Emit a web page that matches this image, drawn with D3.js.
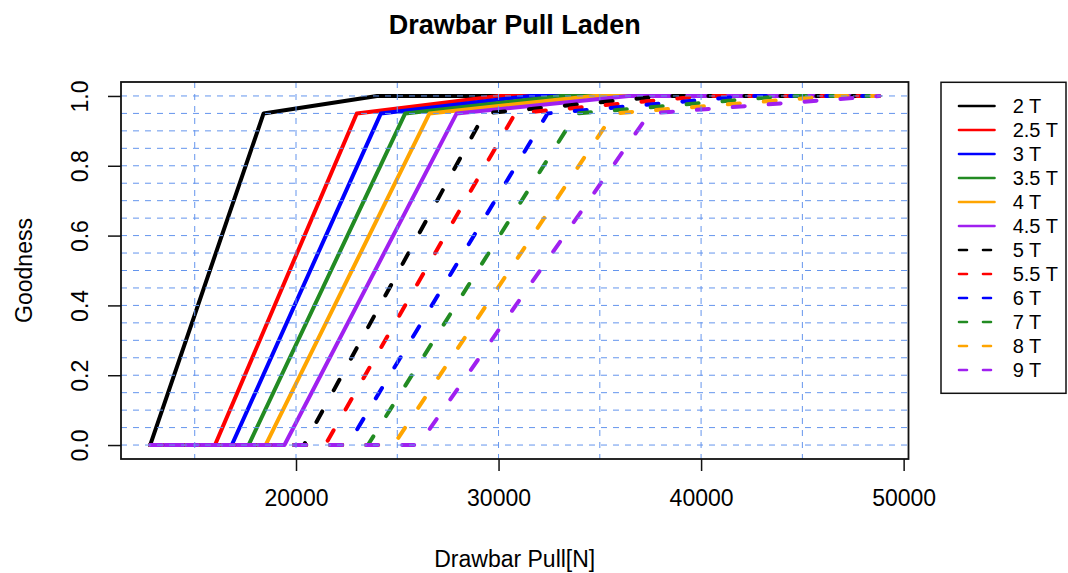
<!DOCTYPE html>
<html>
<head>
<meta charset="utf-8">
<script src="https://cdn.jsdelivr.net/npm/d3@7"></script>
<style>
  body { margin: 0; background: #fff; }
  svg text { font-family: "Liberation Sans", Arial, sans-serif; }
</style>
</head>
<body>
<svg id="canvas" width="1068" height="573"></svg>
<script>
// series names and read-off breakpoints (Drawbar Pull in N)
var seriesNames = ["2 T", "2.5 T", "3 T", "3.5 T", "4 T", "4.5 T", "5 T", "5.5 T", "6 T", "7 T", "8 T", "9 T"];
var startX = [12800, 16000, 16830, 17660, 18500, 19430, 20390, 21440, 22550, 23550, 24820, 26050]; // goodness leaves 0
var peakX  = [18400, 23000, 24190, 25390, 26590, 27930, 29310, 30820, 32420, 33850, 35680, 37450]; // goodness 0.95
var fullX  = [24000, 30000, 31560, 33110, 34690, 36430, 38230, 40200, 42280, 44160, 46540, 48800]; // goodness 1.0
var peakGoodness = 0.95;
var xMin = 12800, xMax = 48800;

var xTicks = [20000, 30000, 40000, 50000];
var yTicks = [0, 0.2, 0.4, 0.6, 0.8, 1.0];
var xGrid = [15000, 20000, 25000, 30000, 35000, 40000, 45000];
var yGrid = d3.range(0, 21).map(function (i) { return i / 20; });

var colors = ["black", "red", "blue", "forestgreen", "orange", "#A020F0",
              "black", "red", "blue", "forestgreen", "orange", "#A020F0"];

var svg = d3.select("#canvas");
var plotL = 121, plotR = 908.5, plotT = 82, plotB = 459;

var pad = (xMax - xMin) * 0.04;
var x = d3.scaleLinear().domain([xMin - pad, xMax + pad]).range([plotL, plotR]);
var y = d3.scaleLinear().domain([-0.04, 1.04]).range([plotB, plotT]);

// build the polylines
var series = seriesNames.map(function (name, i) {
    var pts = [];
    if (startX[i] > xMin) pts.push([xMin, 0]);
    pts.push([startX[i], 0]);
    pts.push([peakX[i], peakGoodness]);
    pts.push([fullX[i], 1]);
    if (fullX[i] < xMax) pts.push([xMax, 1]);
    return { name: name, pts: pts, color: colors[i], dashed: i >= 6 };
});

var line = d3.line()
    .x(function (d) { return x(d[0]); })
    .y(function (d) { return y(d[1]); });

svg.append("g").selectAll("path")
    .data(series)
    .enter()
    .append("path")
    .attr("d", function (d) { return line(d.pts); })
    .attr("fill", "none")
    .attr("stroke", function (d) { return d.color; })
    .attr("stroke-width", 4)
    .attr("stroke-linecap", "round")
    .attr("stroke-linejoin", "round")
    .attr("stroke-dasharray", function (d) { return d.dashed ? "12,24" : null; });

// grid on top of lines
var grid = svg.append("g").attr("stroke", "#6495ED").attr("stroke-width", 1).attr("stroke-dasharray", "6,6");
grid.selectAll(".vg").data(xGrid).enter().append("line")
    .attr("x1", function (d) { return x(d); }).attr("x2", function (d) { return x(d); })
    .attr("y1", plotT).attr("y2", plotB);
grid.selectAll(".hg").data(yGrid).enter().append("line")
    .attr("x1", plotL).attr("x2", plotR)
    .attr("y1", function (d) { return y(d); }).attr("y2", function (d) { return y(d); });

// box
svg.append("rect")
    .attr("x", plotL).attr("y", plotT)
    .attr("width", plotR - plotL).attr("height", plotB - plotT)
    .attr("fill", "none").attr("stroke", "#111").attr("stroke-width", 1.8);

// x axis
var xAxis = svg.append("g")
    .attr("transform", "translate(0," + plotB + ")")
    .call(d3.axisBottom(x).tickValues(xTicks).tickSize(12).tickPadding(19).tickFormat(d3.format("d")));
xAxis.select(".domain").remove();
xAxis.selectAll("line").attr("stroke", "#111").attr("stroke-width", 1.5);
xAxis.selectAll("text").attr("font-size", "23px").attr("fill", "#000")
    .style("font-family", "Liberation Sans, Arial, sans-serif");

// y axis
var yAxis = svg.append("g")
    .attr("transform", "translate(" + plotL + ",0)")
    .call(d3.axisLeft(y).tickValues(yTicks).tickSize(13).tickFormat(d3.format(".1f")));
yAxis.select(".domain").remove();
yAxis.selectAll("line").attr("stroke", "#111").attr("stroke-width", 1.5);
yAxis.selectAll("text")
    .attr("x", 0).attr("y", -33).attr("dy", 0)
    .attr("transform", "rotate(-90)")
    .attr("text-anchor", "middle")
    .attr("font-size", "23px").attr("fill", "#000")
    .style("font-family", "Liberation Sans, Arial, sans-serif");

// labels
svg.append("text")
    .attr("x", (plotL + plotR) / 2).attr("y", 34)
    .attr("text-anchor", "middle")
    .attr("font-size", "27px").attr("font-weight", "bold")
    .text("Drawbar Pull Laden");

svg.append("text")
    .attr("x", (plotL + plotR) / 2).attr("y", 567)
    .attr("text-anchor", "middle")
    .attr("font-size", "23px")
    .text("Drawbar Pull[N]");

svg.append("text")
    .attr("transform", "translate(32," + ((plotT + plotB) / 2) + ") rotate(-90)")
    .attr("text-anchor", "middle")
    .attr("font-size", "23px")
    .text("Goodness");

// legend
var legend = svg.append("g");
legend.append("rect")
    .attr("x", 941).attr("y", 82.3).attr("width", 125).attr("height", 311)
    .attr("fill", "#fff").attr("stroke", "#111").attr("stroke-width", 1.5);

var rows = legend.selectAll(".row").data(series).enter().append("g")
    .attr("transform", function (d, i) { return "translate(0," + (106 + i * 24) + ")"; });
rows.append("line")
    .attr("x1", 959).attr("x2", 994.5)
    .attr("stroke", function (d) { return d.color; })
    .attr("stroke-width", 2.6)
    .attr("stroke-linecap", "round")
    .attr("stroke-dasharray", function (d) { return d.dashed ? "8,16" : null; });
rows.append("text")
    .attr("x", 1012.7).attr("y", 6.5)
    .attr("font-size", "20px")
    .text(function (d) { return d.name; });
</script>
</body>
</html>
